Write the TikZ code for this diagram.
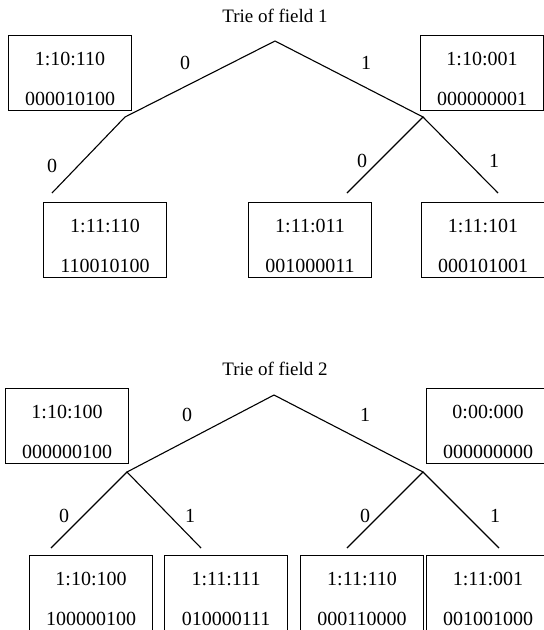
\documentclass[tikz,border=0pt]{standalone}
\usepackage{fontspec}
\setmainfont{Liberation Serif}
\newcommand{\boxlines}[2]{\rule{0pt}{25pt}#1\\[16pt]#2}

\begin{document}
\begin{tikzpicture}[x=1pt, y=-1pt, line width=1.1pt,
    every node/.style={font=\fontsize{20}{24}\selectfont},
    fieldbox/.style={draw, anchor=north west, minimum width=123pt, minimum height=75pt, inner xsep=0pt, inner ysep=2pt, align=center},
    bitlabel/.style={inner sep=0pt},
    trietitle/.style={anchor=base, font=\fontsize{19}{23}\selectfont}]
    \useasboundingbox (0,0) rectangle (544,630);
    \clip (0,0) rectangle (544,630);

    % trie of field 1
    \node[trietitle] (title1) at (275,22) {Trie of field 1};
    \coordinate (root1) at (275,41);
    \coordinate (left1) at (125,117);
    \coordinate (right1) at (423,117);
    \coordinate (leafA1) at (52,193);
    \coordinate (leafB1) at (347,193);
    \coordinate (leafC1) at (498,193);

    \node[fieldbox] (f1left) at (8,35) {\boxlines{1:10:110}{000010100}};
    \node[fieldbox] (f1right) at (420,35) {\boxlines{1:10:001}{000000001}};
    \node[fieldbox] (f1leafA) at (43,202) {\boxlines{1:11:110}{110010100}};
    \node[fieldbox] (f1leafB) at (248,202) {\boxlines{1:11:011}{001000011}};
    \node[fieldbox] (f1leafC) at (421,202) {\boxlines{1:11:101}{000101001}};

    \draw (left1) -- (root1) -- (right1);
    \draw (left1) -- (leafA1);
    \draw (leafB1) -- (right1) -- (leafC1);

    \node[bitlabel] (bit1a) at (185,63) {0};
    \node[bitlabel] (bit1b) at (366,63) {1};
    \node[bitlabel] (bit1c) at (52,166) {0};
    \node[bitlabel] (bit1d) at (362,161) {0};
    \node[bitlabel] (bit1e) at (494,161) {1};

    % trie of field 2
    \node[trietitle] (title2) at (275,375) {Trie of field 2};
    \coordinate (root2) at (274,395);
    \coordinate (left2) at (127,472);
    \coordinate (right2) at (423,472);
    \coordinate (leafA2) at (51,548);
    \coordinate (leafB2) at (201,548);
    \coordinate (leafC2) at (347,548);
    \coordinate (leafD2) at (499,548);

    \node[fieldbox] (f2left) at (5,388) {\boxlines{1:10:100}{000000100}};
    \node[fieldbox] (f2right) at (426,388) {\boxlines{0:00:000}{000000000}};
    \node[fieldbox] (f2leafA) at (29,555) {\boxlines{1:10:100}{100000100}};
    \node[fieldbox] (f2leafB) at (164,555) {\boxlines{1:11:111}{010000111}};
    \node[fieldbox] (f2leafC) at (300,555) {\boxlines{1:11:110}{000110000}};
    \node[fieldbox] (f2leafD) at (426,555) {\boxlines{1:11:001}{001001000}};

    \draw (left2) -- (root2) -- (right2);
    \draw (leafA2) -- (left2) -- (leafB2);
    \draw (leafC2) -- (right2) -- (leafD2);

    \node[bitlabel] (bit2a) at (187,415) {0};
    \node[bitlabel] (bit2b) at (365,415) {1};
    \node[bitlabel] (bit2c) at (64,516) {0};
    \node[bitlabel] (bit2d) at (190,516) {1};
    \node[bitlabel] (bit2e) at (365,516) {0};
    \node[bitlabel] (bit2f) at (495,516) {1};
\end{tikzpicture}
\end{document}
